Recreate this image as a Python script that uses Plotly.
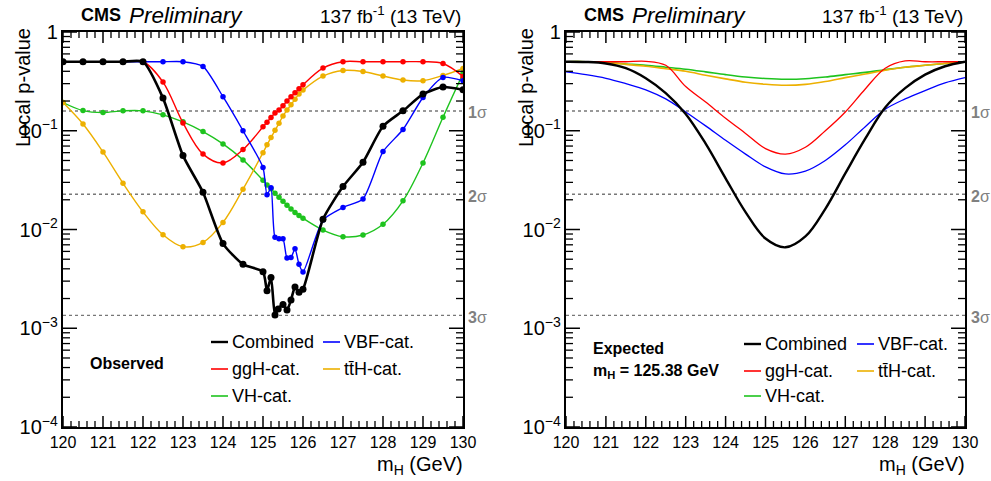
import math
import plotly.graph_objects as go

# ---------------- data: observed ----------------
m_obs_comb = [120, 120.5, 121, 121.5, 122, 122.5, 123, 123.5, 124, 124.5, 125, 125.1, 125.2, 125.3, 125.38,
              125.5, 125.6, 125.7, 125.8, 125.9, 126, 126.5, 127, 127.5, 128, 128.5, 129, 129.5, 130]
p_obs_comb = [0.5, 0.5, 0.5, 0.5, 0.5, 0.214, 0.056, 0.0238, 0.0072, 0.00444, 0.00373, 0.0024, 0.00327, 0.00136, 0.00157,
              0.00174, 0.00153, 0.00193, 0.00261, 0.00231, 0.00249, 0.0127, 0.0272, 0.048, 0.111, 0.159, 0.235, 0.277, 0.26]

m_obs = [120, 120.5, 121, 121.5, 122, 122.5, 123, 123.5, 124, 124.5, 125, 125.1, 125.2, 125.3, 125.4,
         125.5, 125.6, 125.7, 125.8, 125.9, 126, 126.5, 127, 127.5, 128, 128.5, 129, 129.5, 130]
p_obs_ggh = [0.5, 0.5, 0.5, 0.5, 0.5, 0.311, 0.120, 0.058, 0.0472, 0.0645, 0.1096, 0.122, 0.136, 0.151, 0.162,
             0.179, 0.2, 0.221, 0.242, 0.266, 0.292, 0.431, 0.5, 0.5, 0.5, 0.5, 0.5, 0.48, 0.355]
p_obs_vbf = [0.5, 0.5, 0.5, 0.5, 0.5, 0.5, 0.5, 0.448, 0.221, 0.1, 0.0424, 0.0225, 0.0264, 0.00833, 0.00806,
             0.00806, 0.00514, 0.00522, 0.00639, 0.00444, 0.00371, 0.0125, 0.0167, 0.0204, 0.0615, 0.103, 0.217, 0.347, 0.321]
p_obs_tth = [0.193, 0.117, 0.061, 0.0294, 0.0151, 0.00886, 0.0067, 0.0074, 0.0118, 0.0256, 0.060, 0.072, 0.0853, 0.101, 0.119,
             0.141, 0.162, 0.183, 0.209, 0.235, 0.258, 0.358, 0.408, 0.398, 0.358, 0.326, 0.321, 0.363, 0.428]
p_obs_vh = [0.193, 0.160, 0.153, 0.159, 0.159, 0.145, 0.123, 0.098, 0.0736, 0.0507, 0.0315, 0.0283, 0.0259, 0.0233, 0.0212,
            0.0193, 0.0176, 0.0161, 0.0149, 0.0139, 0.0130, 0.00988, 0.00845, 0.0088, 0.0113, 0.0195, 0.0472, 0.137, 0.38]

# ---------------- data: expected ----------------
m_exp = [120, 120.5, 121, 121.5, 122, 122.5, 123, 123.5, 124, 124.5, 125, 125.5, 126, 126.5, 127, 127.5,
         128, 128.5, 129, 129.5, 130]
p_exp_comb = [0.5, 0.497, 0.48, 0.43, 0.34, 0.24, 0.148, 0.074, 0.033, 0.015, 0.0081, 0.0066, 0.0085, 0.0162,
              0.037, 0.083, 0.172, 0.27, 0.37, 0.45, 0.5]
p_exp_ggh = [0.5, 0.5, 0.5, 0.5, 0.505, 0.46, 0.28, 0.195, 0.134, 0.094, 0.066, 0.058, 0.068, 0.1,
             0.155, 0.265, 0.43, 0.51, 0.5, 0.5, 0.5]
p_exp_vbf = [0.395, 0.37, 0.34, 0.30, 0.26, 0.21, 0.155, 0.112, 0.08, 0.058, 0.043, 0.0365, 0.039, 0.05,
             0.072, 0.11, 0.165, 0.21, 0.255, 0.305, 0.345]
p_exp_vh = [0.5, 0.5, 0.49, 0.475, 0.46, 0.44, 0.42, 0.395, 0.37, 0.35, 0.338, 0.332, 0.336, 0.35,
            0.37, 0.39, 0.415, 0.44, 0.46, 0.48, 0.5]
p_exp_tth = [0.5, 0.5, 0.49, 0.47, 0.45, 0.425, 0.40, 0.365, 0.335, 0.31, 0.296, 0.289, 0.295, 0.315,
             0.345, 0.375, 0.41, 0.44, 0.46, 0.48, 0.5]

sigma_p = [0.1587, 0.02275, 0.00135]
sigma_labels = ["<b>1</b>σ", "<b>2</b>σ", "<b>3</b>σ"]

legend_names = ["Combined", "ggH-cat.", "VH-cat.", "VBF-cat.", "tt̄H-cat."]

# ---------------- styling ----------------
C_COMB, C_GGH, C_VBF, C_TTH, C_VH = "#000000", "#ff0000", "#0000ff", "#edb000", "#1ec31e"
FONT = "Liberation Sans, Arial, Helvetica, sans-serif"
W, H = 991, 481
PX_PER_DECADE = 395.0 / 4
PX_PER_GEV = 400.0 / 10

# tick positions (axis decoration only)
x_major = list(range(120, 131))
x_minor = [120 + 0.2 * i for i in range(51) if i % 5 != 0]
y_major = [10.0 ** e for e in range(-4, 1)]
y_minor = [k * 10.0 ** e for e in range(-4, 0) for k in range(2, 10)]


def px(x):
    return x / W


def py(y):
    return 1 - y / H


fig = go.Figure()

for sp in sigma_p:
    for xa, ya in (("x", "y"), ("x2", "y2")):
        fig.add_trace(go.Scatter(x=[120, 130], y=[sp, sp], mode="lines", xaxis=xa, yaxis=ya,
                                 line=dict(color="#777777", width=1.4, dash="dot"),
                                 showlegend=False, hoverinfo="skip"))

obs_series = [
    (m_obs, p_obs_vh, C_VH, "VH-cat."),
    (m_obs, p_obs_tth, C_TTH, "tt̄H-cat."),
    (m_obs, p_obs_ggh, C_GGH, "ggH-cat."),
    (m_obs, p_obs_vbf, C_VBF, "VBF-cat."),
]
for mx, py_, col, name in obs_series:
    smooth = 0.6 if name == "VBF-cat." else 1.0
    fig.add_trace(go.Scatter(x=mx, y=py_, mode="lines+markers", name=name, xaxis="x", yaxis="y",
                             line=dict(color=col, width=1.4, shape="spline", smoothing=smooth),
                             marker=dict(color=col, size=5.5), showlegend=False))
fig.add_trace(go.Scatter(x=m_obs_comb, y=p_obs_comb, mode="lines+markers", name="Combined", xaxis="x", yaxis="y",
                         line=dict(color=C_COMB, width=2.6, shape="spline", smoothing=0.6),
                         marker=dict(color=C_COMB, size=7), showlegend=False))

exp_series = [
    (p_exp_vh, C_VH, 1.6), (p_exp_tth, C_TTH, 1.6), (p_exp_vbf, C_VBF, 1.3),
    (p_exp_ggh, C_GGH, 1.3), (p_exp_comb, C_COMB, 2.4),
]
for pv, col, lw in exp_series:
    fig.add_trace(go.Scatter(x=m_exp, y=pv, mode="lines", xaxis="x2", yaxis="y2",
                             line=dict(color=col, width=lw, shape="spline", smoothing=1.0),
                             showlegend=False))

# inside ticks on all four sides, drawn as thin line traces on each panel's axes
for xa, ya in (("x", "y"), ("x2", "y2")):
    for xvals, yvals, ln, lw in ((x_major, y_major, (11, 14), 1.5), (x_minor, y_minor, (6, 7), 1.3)):
        tx, ty = [], []
        fy = 10 ** (ln[0] / PX_PER_DECADE)
        for v in xvals:
            tx += [v, v, None, v, v, None]
            ty += [1e-4, 1e-4 * fy, None, 1.0, 1.0 / fy, None]
        dx = ln[1] / PX_PER_GEV
        for v in yvals:
            tx += [120, 120 + dx, None, 130, 130 - dx, None]
            ty += [v, v, None, v, v, None]
        fig.add_trace(go.Scatter(x=tx, y=ty, mode="lines", xaxis=xa, yaxis=ya, connectgaps=False,
                                 line=dict(color="black", width=lw), showlegend=False, hoverinfo="skip"))

xax = dict(range=[120, 130], tickmode="linear", tick0=120, dtick=1, ticks="",
           showline=True, linewidth=2, linecolor="black", mirror=True,
           showgrid=False, zeroline=False, automargin=False,
           tickfont=dict(family=FONT, size=16, color="black"))
yax = dict(type="log", range=[-4, 0], tickmode="linear", tick0=0, dtick=1, exponentformat="power",
           ticks="", showline=True, linewidth=2, linecolor="black", mirror=True,
           showgrid=False, zeroline=False, automargin=False,
           tickfont=dict(family=FONT, size=16, color="black"))

fig.update_layout(
    width=W, height=H, margin=dict(l=0, r=0, t=0, b=0),
    paper_bgcolor="white", plot_bgcolor="white",
    xaxis=dict(xax, domain=[px(63), px(463)], anchor="y"),
    yaxis=dict(yax, domain=[py(427), py(32)], anchor="x"),
    xaxis2=dict(xax, domain=[px(566), px(965)], anchor="y2"),
    yaxis2=dict(yax, domain=[py(427), py(32)], anchor="x2"),
    font=dict(family=FONT, color="black"),
)

ann = []
shapes = []

for x0, x1 in ((63, 463), (566, 965)):
    ann.append(dict(x=px(x0 + 16), y=py(15), xref="paper", yref="paper", xanchor="left", yanchor="middle",
                    text="<b>CMS</b>", showarrow=False, font=dict(size=18)))
    ann.append(dict(x=px(x0 + 64), y=py(15), xref="paper", yref="paper", xanchor="left", yanchor="middle",
                    text="<i>Preliminary</i>", showarrow=False, font=dict(size=22.5)))
    ann.append(dict(x=px(x1), y=py(15), xref="paper", yref="paper", xanchor="right", yanchor="middle",
                    text="137 fb<sup>-1</sup> (13 TeV)", showarrow=False, font=dict(size=19)))
    ann.append(dict(x=px(x1 + 2), y=py(465), xref="paper", yref="paper", xanchor="right", yanchor="middle",
                    text="m<sub>H</sub> (GeV)", showarrow=False, font=dict(size=20)))
    ann.append(dict(x=px(x0 - 40), y=py(88), xref="paper", yref="paper", xanchor="center", yanchor="middle",
                    text="Local p-value", textangle=-90, showarrow=False, font=dict(size=20)))

for yr, xr_px in (("y", 477), ("y2", 980)):
    for sp, lab in zip(sigma_p, sigma_labels):
        ann.append(dict(x=px(xr_px), y=math.log10(sp), xref="paper", yref=yr, xanchor="center",
                        yanchor="middle", yshift=-2, text=lab, showarrow=False,
                        font=dict(size=16, color="#808080")))


def add_legend(xl1, xl2, ys, tx1, tx2):
    cols = [C_COMB, C_GGH, C_VH, C_VBF, C_TTH]
    pos = [(xl1, ys[0], tx1), (xl1, ys[1], tx1), (xl1, ys[2], tx1), (xl2, ys[0], tx2), (xl2, ys[1], tx2)]
    for (lx, ly, tx), col, name in zip(pos, cols, legend_names):
        shapes.append(dict(type="line", xref="paper", yref="paper", x0=px(lx), x1=px(lx + 17),
                           y0=py(ly), y1=py(ly), line=dict(color=col, width=2.4 if col == C_COMB else 1.6)))
        ann.append(dict(x=px(tx), y=py(ly), xref="paper", yref="paper", xanchor="left", yanchor="middle",
                        text=name, showarrow=False, font=dict(size=18)))


add_legend(211, 323, [342, 369, 396], 230, 342)
add_legend(744, 857, [344, 371, 396], 763, 876)

ann.append(dict(x=px(88), y=py(363), xref="paper", yref="paper", xanchor="left", yanchor="middle",
                text="<b>Observed</b>", showarrow=False, font=dict(size=16)))
ann.append(dict(x=px(591), y=py(348), xref="paper", yref="paper", xanchor="left", yanchor="middle",
                text="<b>Expected</b>", showarrow=False, font=dict(size=16)))
ann.append(dict(x=px(591), y=py(371), xref="paper", yref="paper", xanchor="left", yanchor="middle",
                text="<b>m<sub>H</sub> = 125.38 GeV</b>", showarrow=False, font=dict(size=16)))

fig.update_layout(annotations=ann, shapes=shapes)
fig.write_html("out.html", config={"displayModeBar": False},
               post_script="document.body.style.margin='0px';")
